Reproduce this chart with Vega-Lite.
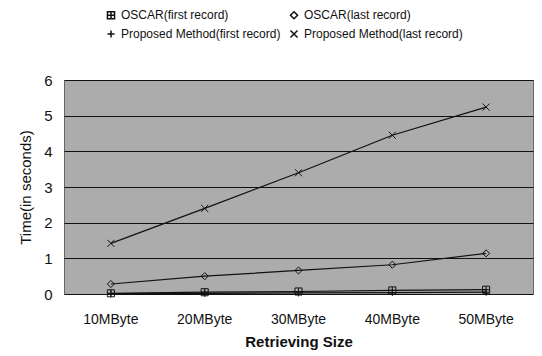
{
  "$schema": "https://vega.github.io/schema/vega-lite/v6.json",
  "width": 469,
  "height": 214,
  "autosize": {"type": "none"},
  "padding": {"left": 64, "top": 80, "right": 9, "bottom": 62},
  "background": "white",
  "config": {
    "font": "Liberation Sans",
    "view": {"fill": "#acacac", "stroke": "#666", "strokeWidth": 1},
    "axis": {"labelFont": "Liberation Sans", "titleFont": "Liberation Sans", "labelColor": "#111", "titleColor": "#111"},
    "legend": {"labelLimit": 400}
  },
  "data": {
    "values": [
      {"series": "OSCAR(first record)", "size": "10MByte", "time": 0.02},
      {"series": "OSCAR(first record)", "size": "20MByte", "time": 0.05},
      {"series": "OSCAR(first record)", "size": "30MByte", "time": 0.07},
      {"series": "OSCAR(first record)", "size": "40MByte", "time": 0.1},
      {"series": "OSCAR(first record)", "size": "50MByte", "time": 0.12},
      {"series": "OSCAR(last record)", "size": "10MByte", "time": 0.28},
      {"series": "OSCAR(last record)", "size": "20MByte", "time": 0.5},
      {"series": "OSCAR(last record)", "size": "30MByte", "time": 0.66},
      {"series": "OSCAR(last record)", "size": "40MByte", "time": 0.82},
      {"series": "OSCAR(last record)", "size": "50MByte", "time": 1.14},
      {"series": "Proposed Method(first record)", "size": "10MByte", "time": 0.01},
      {"series": "Proposed Method(first record)", "size": "20MByte", "time": 0.02},
      {"series": "Proposed Method(first record)", "size": "30MByte", "time": 0.03},
      {"series": "Proposed Method(first record)", "size": "40MByte", "time": 0.04},
      {"series": "Proposed Method(first record)", "size": "50MByte", "time": 0.05},
      {"series": "Proposed Method(last record)", "size": "10MByte", "time": 1.42},
      {"series": "Proposed Method(last record)", "size": "20MByte", "time": 2.4},
      {"series": "Proposed Method(last record)", "size": "30MByte", "time": 3.4},
      {"series": "Proposed Method(last record)", "size": "40MByte", "time": 4.45},
      {"series": "Proposed Method(last record)", "size": "50MByte", "time": 5.24}
    ]
  },
  "encoding": {
    "x": {
      "field": "size", "type": "nominal", "sort": null,
      "scale": {"type": "band", "paddingInner": 0, "paddingOuter": 0},
      "axis": {"title": "Retrieving Size", "labelAngle": 0, "labelFontSize": 14, "labelPadding": 18, "ticks": false, "domain": false, "titleFontSize": 15, "titleFontWeight": "bold", "titlePadding": 8}
    },
    "y": {
      "field": "time", "type": "quantitative",
      "scale": {"domain": [0, 6]},
      "axis": {"title": "Time(in seconds)", "values": [0, 1, 2, 3, 4, 5, 6], "labelFontSize": 15, "labelPadding": 12, "ticks": false, "domain": false, "gridColor": "#111", "gridWidth": 1, "gridOpacity": 1, "titleFontSize": 15, "titleFontWeight": "normal", "titlePadding": 10}
    }
  },
  "layer": [
    {
      "mark": {"type": "line", "color": "#111", "strokeWidth": 1.2},
      "encoding": {"detail": {"field": "series"}}
    },
    {
      "mark": {"type": "point", "filled": false, "color": "#111", "strokeWidth": 1, "size": 50, "opacity": 1},
      "encoding": {
        "shape": {
          "field": "series", "type": "nominal",
          "scale": {
            "domain": ["OSCAR(first record)", "OSCAR(last record)", "Proposed Method(first record)", "Proposed Method(last record)"],
            "range": ["M-1,-1H1V1H-1ZM0,-1V1M-1,0H1", "M0,-1L1,0L0,1L-1,0Z", "M-1,0L1,0M0,-1L0,1", "M-1,-1L1,1M-1,1L1,-1"]
          },
          "legend": {
            "title": null, "orient": "none", "columns": 2, "direction": "horizontal",
            "legendX": 36, "legendY": -76,
            "padding": 5, "columnPadding": 6, "rowPadding": 5, "labelLimit": 400,
            "labelFontSize": 12, "labelColor": "#111", "symbolStrokeColor": "#111", "symbolSize": 50,
            "encode": {"legend": {"update": {"stroke": {"value": "#222"}, "strokeWidth": {"value": 1}, "fill": {"value": "white"}}}}
          }
        }
      }
    }
  ]
}
